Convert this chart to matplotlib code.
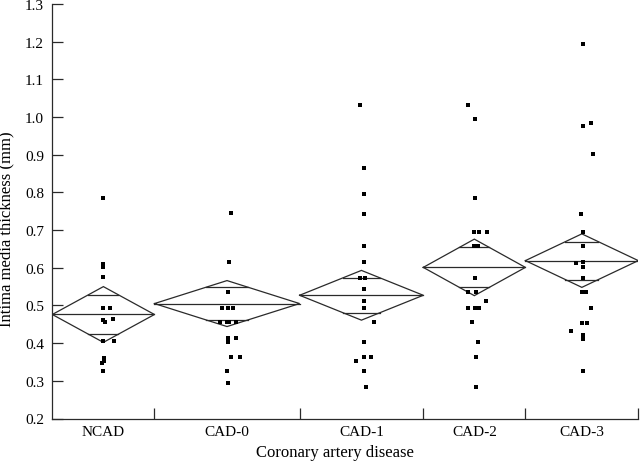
import matplotlib.pyplot as plt
import numpy as np

# ---------------------------------------------------------------------------
# Data
# ---------------------------------------------------------------------------

GROUPS  = ["NCAD", "CAD-0", "CAD-1", "CAD-2", "CAD-3"]
GROUP_N = [19, 27, 23, 19, 21]          # x-axis width is proportional to n
MEANS   = [0.476, 0.505, 0.527, 0.601, 0.619]
CI_HALF = [0.074, 0.061, 0.066, 0.075, 0.071]

# individual IMT values (mm) and their horizontal jitter (in subject units)
NCAD_IMT  = [0.786, 0.609, 0.602, 0.575, 0.493, 0.493, 0.464, 0.462, 0.456,
             0.405, 0.405, 0.361, 0.352, 0.346, 0.326]
NCAD_JIT  = [0, 0, 0, 0, 0, 1.2, 1.7, 0, 0.3, 0, 1.95, 0.2, 0.2, -0.2, 0]

CAD0_IMT  = [0.745, 0.614, 0.535, 0.493, 0.493, 0.493, 0.456, 0.456, 0.456,
             0.456, 0.414, 0.414, 0.403, 0.362, 0.362, 0.326, 0.293]
CAD0_JIT  = [0.75, 0.3, 0.2, -0.95, 0.2, 1.05, -1.25, 0, 0.45, 1.75, 0.2,
             1.75, 0.2, 0.8, 2.35, 0, 0.2]

CAD1_IMT  = [1.032, 0.865, 0.796, 0.744, 0.657, 0.614, 0.573, 0.573, 0.544,
             0.513, 0.493, 0.455, 0.403, 0.362, 0.362, 0.352, 0.325, 0.284]
CAD1_JIT  = [-0.2, 0.4, 0.4, 0.4, 0.4, 0.4, -0.35, 0.6, 0.4, 0.4, 0.4, 2.25,
             0.4, 0.4, 1.7, -1.1, 0.4, 0.8]

CAD2_IMT  = [1.032, 0.995, 0.786, 0.694, 0.694, 0.694, 0.657, 0.657, 0.572,
             0.536, 0.536, 0.512, 0.492, 0.492, 0.492, 0.455, 0.404, 0.362, 0.283]
CAD2_JIT  = [-1.25, 0.15, 0.15, 0.0, 0.8, 2.3, -0.15, 0.6, 0.15, -1.25, 0.3,
             2.15, -1.25, 0.1, 0.9, -0.5, 0.6, 0.35, 0.35]

CAD3_IMT  = [1.194, 0.985, 0.976, 0.903, 0.743, 0.694, 0.657, 0.615, 0.613,
             0.602, 0.572, 0.536, 0.536, 0.492, 0.454, 0.454, 0.432, 0.421,
             0.410, 0.325]
CAD3_JIT  = [0.15, 1.65, 0.15, 2.0, -0.15, 0.15, 0.15, 0.15, -1.0, 0.15, 0.15,
             0.05, 0.8, 1.65, 0.05, 0.95, -2.0, 0.15, 0.15, 0.15]

POINTS = [(NCAD_IMT, NCAD_JIT), (CAD0_IMT, CAD0_JIT), (CAD1_IMT, CAD1_JIT),
          (CAD2_IMT, CAD2_JIT), (CAD3_IMT, CAD3_JIT)]

Y_TICKS = np.round(np.arange(0.2, 1.31, 0.1), 1)

LINE_COLOR = "#2a2a2a"

# ---------------------------------------------------------------------------
# Plot
# ---------------------------------------------------------------------------

plt.rcParams["font.family"] = ["Liberation Serif", "DejaVu Serif"]

fig = plt.figure(figsize=(6.4, 4.64), dpi=100)
ax = fig.add_axes([52.3 / 640, 1 - 419.5 / 464, 586 / 640, 414.5 / 464])

edges = np.concatenate([[0], np.cumsum(GROUP_N)])
centers = (edges[:-1] + edges[1:]) / 2

for i, (vals, jit) in enumerate(POINTS):
    left, right, c = edges[i], edges[i + 1], centers[i]
    m, h = MEANS[i], CI_HALF[i]

    # means diamond
    ax.plot([left, c, right, c, left], [m, m + h, m, m - h, m],
            color=LINE_COLOR, lw=0.9, solid_joinstyle="miter")
    ax.plot([left, right], [m, m], color=LINE_COLOR, lw=0.9)
    # overlap marks at mean +/- ci/sqrt(2)
    hw = (right - left) / 2 * (1 - 1 / np.sqrt(2))
    for s in (1, -1):
        y = m + s * h / np.sqrt(2)
        ax.plot([c - hw, c + hw], [y, y], color=LINE_COLOR, lw=0.9)

    ax.plot(c + np.array(jit), vals, "s", color="black", markersize=3,
            markeredgewidth=0, linestyle="none")

ax.set_xlim(edges[0], edges[-1])
ax.set_ylim(0.2, 1.3)

for side in ("top", "right"):
    ax.spines[side].set_visible(False)
for side in ("left", "bottom"):
    ax.spines[side].set_color(LINE_COLOR)
    ax.spines[side].set_linewidth(0.9)

ax.set_yticks(Y_TICKS)
ax.set_yticklabels([f"{v:.1f}" for v in Y_TICKS])
ax.tick_params(axis="y", direction="in", length=8, width=0.9,
               color=LINE_COLOR, labelsize=11, pad=6)

ax.set_xticks(centers)
ax.set_xticklabels(GROUPS)
ax.set_xticks(edges[1:], minor=True)
ax.tick_params(axis="x", which="major", length=0, labelsize=11, pad=5)
ax.tick_params(axis="x", which="minor", direction="in", length=8, width=0.9,
               color=LINE_COLOR)

ax.set_xlabel("Coronary artery disease", fontsize=12)
ax.set_ylabel("Intima media thickness (mm)", fontsize=12)
ax.xaxis.set_label_coords(0.483, -0.062)
ax.yaxis.set_label_coords(-0.064, 0.458)

fig.savefig("out.png", dpi=100)
